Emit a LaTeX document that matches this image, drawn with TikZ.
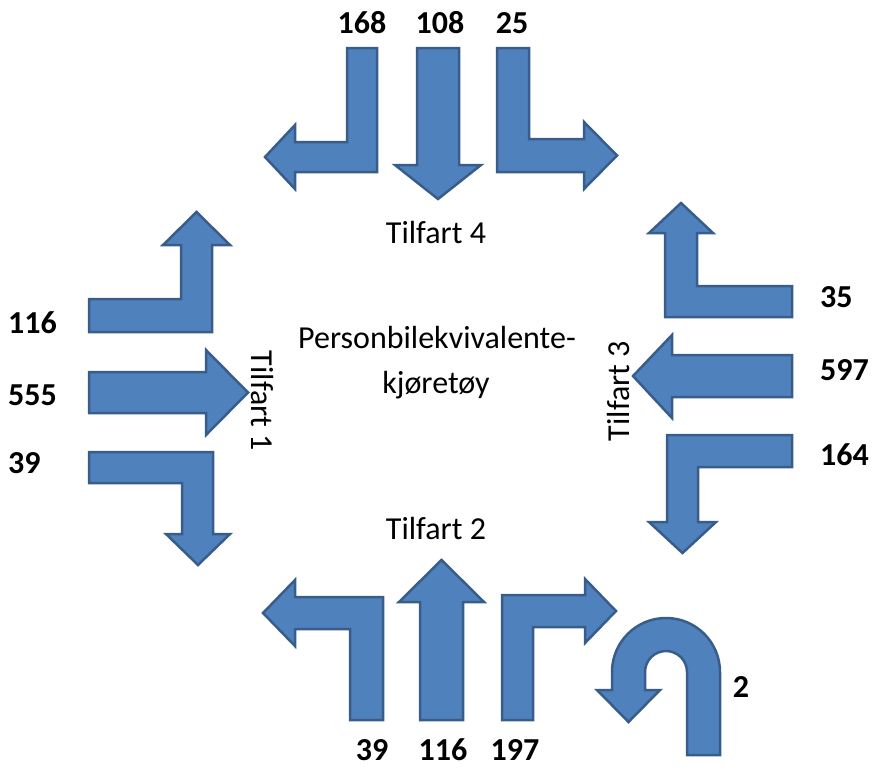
\documentclass[tikz,border=0pt]{standalone}
\usepackage{fontspec}
\setmainfont{Carlito}
\usepackage{xcolor}
\usetikzlibrary{calc,positioning}

\definecolor{pilblaa}{HTML}{4F81BD}
\definecolor{pilkant}{HTML}{385D8A}

\tikzset{
    pil/.style={fill=pilblaa, draw=pilkant, line width=2.5pt, line join=miter},
    tall/.style={font=\fontsize{32}{37}\selectfont\bfseries, inner sep=0pt},
    tekst/.style={font=\fontsize{32}{37}\selectfont, inner sep=0pt}
}

\begin{document}
\begin{tikzpicture}[x=1pt, y=-1pt]
        \useasboundingbox (0, 0) rectangle (873, 769);

        %%tilfart 4
        \draw[pil] (347, 48) -- (377, 48) -- (377, 172) -- (295, 172) -- (295, 189)
            -- (265, 157) -- (295, 125) -- (295, 142) -- (347, 142) -- cycle;
        \draw[pil] (417, 48) -- (459, 48) -- (459, 165) -- (481, 165) -- (438, 199)
            -- (395, 165) -- (417, 165) -- cycle;
        \draw[pil] (497, 48) -- (529, 48) -- (529, 139) -- (584, 139) -- (584, 122)
            -- (617, 155.5) -- (584, 189) -- (584, 172) -- (497, 172) -- cycle;
            \node[tall, anchor=base] (t168) at (362, 33){168};
            \node[tall, anchor=base] (t108) at (440, 33){108};
            \node[tall, anchor=base] (t25) at (512, 33){25};

        %%tilfart 2
        \draw[pil] (383, 720) -- (350, 720) -- (350, 629) -- (295, 629) -- (295, 646)
            -- (263, 613) -- (295, 580) -- (295, 597) -- (383, 597) -- cycle;
        \draw[pil] (420, 720) -- (463, 720) -- (463, 602) -- (484, 602) -- (441.5, 560)
            -- (399, 602) -- (420, 602) -- cycle;
        \draw[pil] (502, 720) -- (533, 720) -- (533, 627) -- (585, 627) -- (585, 643)
            -- (616, 611) -- (585, 579) -- (585, 595) -- (502, 595) -- cycle;
            \node[tall, anchor=base] (b39) at (372, 760){39};
            \node[tall, anchor=base] (b116) at (443, 760){116};
            \node[tall, anchor=base] (b197) at (515, 760){197};

        %%u-sving
        \draw[pil] (720, 755) -- (720, 672) arc[start angle=0, end angle=-180, radius=54]
            -- (612, 690) -- (597, 690) -- (628.5, 722) -- (660, 690) -- (645, 690)
            -- (645, 672) arc[start angle=180, end angle=360, radius=21]
            -- (687, 755) -- cycle;
            \node[tall, anchor=base] (u2) at (741, 697){2};

        %%tilfart 1
        \draw[pil] (89, 299) -- (181, 299) -- (181, 245) -- (163, 245) -- (196.5, 212)
            -- (230, 245) -- (212, 245) -- (212, 332) -- (89, 332) -- cycle;
        \draw[pil] (89, 372) -- (206, 372) -- (206, 350) -- (248, 392.5) -- (206, 435)
            -- (206, 413) -- (89, 413) -- cycle;
        \draw[pil] (89, 452) -- (213, 452) -- (213, 534) -- (230, 534) -- (198, 565)
            -- (166, 534) -- (182, 534) -- (182, 483) -- (89, 483) -- cycle;
            \node[tall, anchor=base west] (v116) at (8, 333){116};
            \node[tall, anchor=base west] (v555) at (8, 405){555};
            \node[tall, anchor=base west] (v39) at (8, 473){39};

        %%tilfart 3
        \draw[pil] (792, 286) -- (697, 286) -- (697, 233) -- (713, 233) -- (681, 203)
            -- (649, 233) -- (665, 233) -- (665, 317) -- (792, 317) -- cycle;
        \draw[pil] (792, 355) -- (672, 355) -- (672, 335) -- (633, 376) -- (672, 418)
            -- (672, 397) -- (792, 397) -- cycle;
        \draw[pil] (792, 435) -- (667, 435) -- (667, 522) -- (649, 522) -- (682.5, 553)
            -- (716, 522) -- (698, 522) -- (698, 467) -- (792, 467) -- cycle;
            \node[tall, anchor=base west] (h35) at (820, 307){35};
            \node[tall, anchor=base west] (h597) at (820, 380){597};
            \node[tall, anchor=base west] (h164) at (820, 465){164};

        %%navn
        \node[tekst, anchor=base] (tilf4) at (436, 243){Tilfart 4};
        \node[tekst, anchor=base] (tilf2) at (436, 539){Tilfart 2};
        \node[tekst, rotate=-90] (tilf1) at (262, 401){Tilfart 1};
        \node[tekst, rotate=90] (tilf3) at (619, 391){Tilfart 3};
        \node[tekst, anchor=base] (pbe1) at (437, 348){Personbilekvivalente-};
        \node[tekst, anchor=base] (pbe2) at (436, 393){kjøretøy};

        \end{tikzpicture}
\end{document}
